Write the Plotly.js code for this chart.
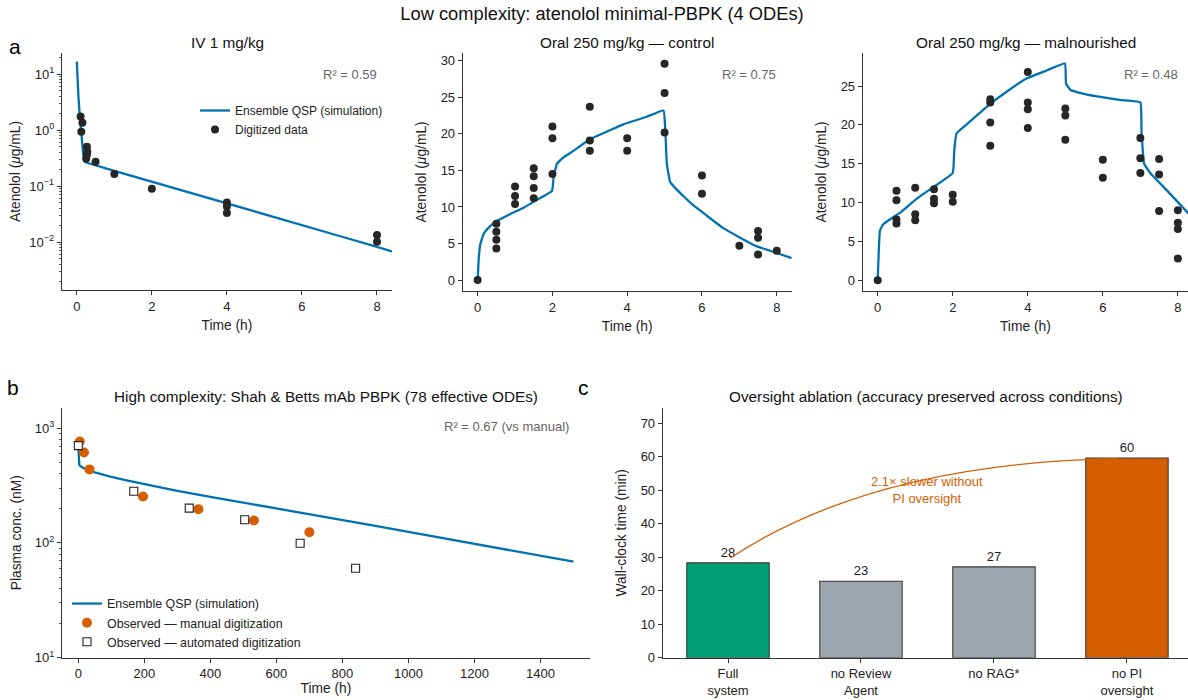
<!DOCTYPE html>
<html>
<head>
<meta charset="utf-8">
<script src="https://cdn.plot.ly/plotly-3.0.1.min.js"></script>
<style>html,body{margin:0;padding:0;background:#fff;}#chart{width:1188px;height:700px;}</style>
</head>
<body>
<div id="chart"></div>
<script>
// ---------------- data ----------------
// Panel a1: IV 1 mg/kg
const ivTime = [0.1, 0.15, 0.12, 0.27, 0.28, 0.27, 0.25, 0.5, 1, 2, 4, 4, 4, 8, 8];
const ivConc = [1.74, 1.35, 0.93, 0.50, 0.41, 0.36, 0.31, 0.27, 0.164, 0.089, 0.051, 0.043, 0.033, 0.0133, 0.0101];
const simIvTime = [0, 0.018, 0.044, 0.08, 0.124, 0.169, 0.213, 0.27, 1, 2, 3, 4, 5, 6, 7, 8, 8.4];
const simIvConc = [16.6, 7.8, 3.9, 1.74, 0.76, 0.385, 0.27, 0.26, 0.187, 0.119, 0.0764, 0.0489, 0.0313, 0.020, 0.0128, 0.0082, 0.0068];

// Panel a2: oral control
const ctlTime = [0, 0.5, 0.5, 0.5, 0.5, 1, 1, 1, 1.5, 1.5, 1.5, 1.5, 2, 2, 2, 3, 3, 3, 4, 4, 5, 5, 5, 6, 6, 7, 7.5, 7.5, 7.5, 8];
const ctlConc = [0, 7.7, 6.6, 5.5, 4.3, 12.8, 11.5, 10.4, 15.3, 14.2, 12.6, 11.2, 21.0, 19.4, 14.5, 23.7, 19.1, 17.7, 19.4, 17.7, 29.6, 25.6, 20.2, 14.3, 11.8, 4.7, 6.7, 5.8, 3.5, 4.0];
const simCtlTime = [0, 0.03, 0.07, 0.16, 0.3, 0.52, 0.9, 1.23, 1.6, 1.99, 2.03, 2.12, 2.3, 2.57, 3.01, 3.5, 3.9, 4.5, 4.97, 5.02, 5.06, 5.15, 5.3, 5.5, 5.75, 6.13, 6.57, 7.02, 7.47, 8.0, 8.4];
const simCtlConc = [0, 3.0, 4.9, 6.3, 7.2, 8.1, 9.1, 9.9, 11.0, 12.2, 14.0, 15.9, 16.8, 17.7, 19.3, 20.4, 21.3, 22.3, 23.2, 20.4, 15.9, 13.4, 12.5, 11.5, 10.3, 8.8, 7.1, 5.8, 4.6, 3.7, 3.0];

// Panel a3: oral malnourished
const malTime = [0, 0.5, 0.5, 0.5, 0.5, 1, 1, 1, 1.5, 1.5, 1.5, 2, 2, 3, 3, 3, 3, 4, 4, 4, 4, 5, 5, 5, 6, 6, 7, 7, 7, 7.5, 7.5, 7.5, 8, 8, 8, 8];
const malConc = [0, 11.5, 10.3, 7.8, 7.3, 11.9, 8.5, 7.7, 11.7, 10.5, 9.9, 11.0, 10.1, 23.3, 22.9, 20.3, 17.3, 26.8, 22.9, 22.0, 19.6, 22.1, 21.2, 18.1, 15.5, 13.2, 18.3, 15.7, 13.8, 15.6, 13.6, 8.9, 9.0, 7.4, 6.6, 2.8];
const simMalTime = [0, 0.03, 0.06, 0.15, 0.35, 0.6, 1.04, 1.49, 2.0, 2.04, 2.1, 2.38, 3.0, 3.5, 3.98, 4.5, 4.99, 5.02, 5.14, 5.5, 5.94, 6.5, 7.0, 7.03, 7.1, 7.28, 7.72, 8.28];
const simMalConc = [0, 4.0, 6.4, 7.2, 7.9, 8.7, 10.5, 12.0, 13.8, 16.7, 18.9, 20.1, 22.7, 24.5, 26.0, 27.0, 27.9, 25.3, 24.5, 24.0, 23.6, 23.2, 22.9, 19.3, 15.0, 13.7, 11.5, 8.6];

// Panel b: mAb PBPK
const manualTime = [4.5, 17, 34, 196, 364, 532, 700];
const manualConc = [766, 614, 438, 254, 197, 157, 124];
const autoTime = [0, 168, 336, 504, 672, 840];
const autoConc = [706, 282, 201, 159, 99.3, 60];
const simPbTime = [0, 1, 3, 10, 25, 50, 75, 100, 150, 200, 300, 400, 500, 600, 700, 800, 900, 1000, 1100, 1200, 1300, 1400, 1500];
const simPbConc = [700, 520, 478, 458, 436, 412, 392, 376, 349, 325, 285, 252, 225, 200, 178, 158, 141, 125, 111, 98.5, 87.5, 77.5, 68.5];

// Panel c: oversight ablation
const conditions = ['Full<br>system', 'no Review<br>Agent', 'no RAG*', 'no PI<br>oversight'];
const wallTime = [28.3, 22.8, 27.1, 59.6];

const r2Text = ['R² = 0.59', 'R² = 0.75', 'R² = 0.48', 'R² = 0.67 (vs manual)'];

// ---------------- style ----------------
const W = 1188, H = 700;
const px = v => v / W;
const py = v => 1 - v / H;
const FONT = 'Liberation Sans, Arial, Helvetica, sans-serif';
const BLUE = '#0072B2', DOT = '#262626', ORANGE = '#D55E00', GREEN = '#009E73', GREY = '#9AA5AE';
const TICK = 13, LAB = 13.8, SUB = 15.3;

function axTitle(text, standoff) {
  return {text: text, standoff: standoff, font: {size: LAB, color: '#222', family: FONT}};
}
function baseAxis(extra) {
  return Object.assign({
    showline: true, linecolor: '#333', linewidth: 1,
    ticks: 'outside', ticklen: 4, tickwidth: 1, tickcolor: '#333',
    showgrid: false, zeroline: false, fixedrange: true,
    tickfont: {size: TICK, color: '#222', family: FONT}
  }, extra);
}
function decadeTicks(lo, hi) {
  const vals = [], text = [], minor = [];
  for (let e = lo; e <= hi; e++) {
    vals.push(Math.pow(10, e));
    text.push('10<sup>' + (e < 0 ? '−' + (-e) : e) + '</sup>');
    for (let m = 2; m <= 9; m++) minor.push(m * Math.pow(10, e));
  }
  minor.push(Math.pow(10, hi + 1));
  return {vals, text, minor};
}
const dA = decadeTicks(-3, 1);
const dB = decadeTicks(1, 3);

const traces = [
  // a1
  {x: simIvTime, y: simIvConc, xaxis: 'x', yaxis: 'y', mode: 'lines', name: 'Ensemble QSP (simulation)',
   line: {color: BLUE, width: 2.3}, legend: 'legend'},
  {x: ivTime, y: ivConc, xaxis: 'x', yaxis: 'y', mode: 'markers', name: 'Digitized data',
   marker: {color: DOT, size: 8}, legend: 'legend'},
  // a2
  {x: simCtlTime, y: simCtlConc, xaxis: 'x2', yaxis: 'y2', mode: 'lines', line: {color: BLUE, width: 2.3, shape: 'spline', smoothing: 0.3}, showlegend: false},
  {x: ctlTime, y: ctlConc, xaxis: 'x2', yaxis: 'y2', mode: 'markers', marker: {color: DOT, size: 8}, showlegend: false},
  // a3
  {x: simMalTime, y: simMalConc, xaxis: 'x3', yaxis: 'y3', mode: 'lines', line: {color: BLUE, width: 2.3, shape: 'spline', smoothing: 0.3}, showlegend: false},
  {x: malTime, y: malConc, xaxis: 'x3', yaxis: 'y3', mode: 'markers', marker: {color: DOT, size: 8}, showlegend: false},
  // b
  {x: simPbTime, y: simPbConc, xaxis: 'x4', yaxis: 'y4', mode: 'lines', name: 'Ensemble QSP (simulation)',
   line: {color: BLUE, width: 2.3}, legend: 'legend2'},
  {x: manualTime, y: manualConc, xaxis: 'x4', yaxis: 'y4', mode: 'markers', name: 'Observed — manual digitization',
   marker: {color: ORANGE, size: 10}, legend: 'legend2'},
  {x: autoTime, y: autoConc, xaxis: 'x4', yaxis: 'y4', mode: 'markers', name: 'Observed — automated digitization',
   marker: {color: '#fff', size: 8, symbol: 'square', line: {color: '#222', width: 1.1}}, legend: 'legend2'},
  // c
  {x: conditions.map((c, i) => i), y: wallTime, xaxis: 'x5', yaxis: 'y5', type: 'bar', width: 0.62,
   marker: {color: [GREEN, GREY, GREY, ORANGE], line: {color: '#3a3a3a', width: 1.1}},
   text: wallTime.map(v => Math.round(v).toString()), textposition: 'outside', cliponaxis: false,
   textfont: {size: 13, color: '#222', family: FONT}, showlegend: false}
];

const ratio = (wallTime[3] / wallTime[0]).toFixed(1);

function note(text, x, y, size, color, anchor) {
  return {text: text, x: px(x), y: py(y), xref: 'paper', yref: 'paper', showarrow: false,
          xanchor: anchor || 'center', yanchor: 'middle', font: {size: size, color: color, family: FONT}};
}

const layout = {
  width: W, height: H,
  margin: {l: 0, r: 0, t: 0, b: 0},
  paper_bgcolor: '#fff', plot_bgcolor: 'rgba(0,0,0,0)',
  font: {family: FONT, size: 12, color: '#222'},
  title: {text: 'Low complexity: atenolol minimal-PBPK (4 ODEs)', x: px(602), xanchor: 'center',
          y: py(14), yanchor: 'middle', font: {size: 18.3, color: '#111', family: FONT}},
  bargap: 0,
  xaxis: baseAxis({domain: [px(61.8), px(392)], range: [-0.4, 8.4], anchor: 'y', tickvals: [0, 2, 4, 6, 8],
                   title: axTitle('Time (h)', 7)}),
  yaxis: baseAxis({domain: [py(290), py(53)], type: 'log', range: [-2.857, 1.375], anchor: 'x',
                   tickmode: 'array', tickvals: dA.vals, ticktext: dA.text,
                   minor: {tickmode: 'array', tickvals: dA.minor, ticks: 'outside', ticklen: 2, tickwidth: 0.8, tickcolor: '#333'},
                   title: axTitle('Atenolol (<i>μ</i>g/mL)', 5)}),
  xaxis2: baseAxis({domain: [px(462.7), px(791.7)], range: [-0.4, 8.4], anchor: 'y2', tickvals: [0, 2, 4, 6, 8],
                    title: axTitle('Time (h)', 7)}),
  yaxis2: baseAxis({domain: [py(291), py(52.7)], range: [-1.5, 31.1], anchor: 'x2', tickvals: [0, 5, 10, 15, 20, 25, 30],
                    title: axTitle('Atenolol (<i>μ</i>g/mL)', 10)}),
  xaxis3: baseAxis({domain: [px(862.7), 1], range: [-0.4, 8.27], anchor: 'y3', tickvals: [0, 2, 4, 6, 8],
                    title: axTitle('Time (h)', 7)}),
  yaxis3: baseAxis({domain: [py(291), py(52.7)], range: [-1.4, 29.3], anchor: 'x3', tickvals: [0, 5, 10, 15, 20, 25],
                    title: axTitle('Atenolol (<i>μ</i>g/mL)', 10)}),
  xaxis4: baseAxis({domain: [px(61.8), px(590)], range: [-50, 1550], anchor: 'y4', tickvals: [0, 200, 400, 600, 800, 1000, 1200, 1400],
                    title: axTitle('Time (h)', 3)}),
  yaxis4: baseAxis({domain: [py(657.5), py(408)], type: 'log', range: [1, 3.177], anchor: 'x4',
                    tickmode: 'array', tickvals: dB.vals, ticktext: dB.text,
                    minor: {tickmode: 'array', tickvals: dB.minor, ticks: 'outside', ticklen: 2, tickwidth: 0.8, tickcolor: '#333'},
                    title: axTitle('Plasma conc. (nM)', 9)}),
  xaxis5: baseAxis({domain: [px(662.7), 1], range: [-0.491, 3.459], anchor: 'y5',
                    tickmode: 'array', tickvals: conditions.map((c, i) => i), ticktext: conditions}),
  yaxis5: baseAxis({domain: [py(657.7), py(408)], range: [0, 74.5], anchor: 'x5', tickvals: [0, 10, 20, 30, 40, 50, 60, 70],
                    title: axTitle('Wall-clock time (min)', 10)}),
  legend: {x: px(195), y: py(96), xanchor: 'left', yanchor: 'top', bgcolor: 'rgba(0,0,0,0)',
           font: {size: 12, color: '#222', family: FONT}, itemwidth: 30, tracegroupgap: 0},
  legend2: {x: px(67), y: py(589), xanchor: 'left', yanchor: 'top', bgcolor: 'rgba(0,0,0,0)',
            font: {size: 12.4, color: '#222', family: FONT}, itemwidth: 30, tracegroupgap: 0},
  shapes: [
    {type: 'path', xref: 'x5', yref: 'y5',
     path: 'M ' + (0 + 0.02) + ',' + (wallTime[0] + 1.5) + ' Q 1.1,' + (wallTime[3] - 1.5) + ' ' + (3 - 0.07) + ',' + (wallTime[3] - 0.2),
     line: {color: ORANGE, width: 1.3}}
  ],
  annotations: [
    note('IV 1 mg/kg', 227, 42, SUB, '#111'),
    note('Oral 250 mg/kg — control', 627, 42, SUB, '#111'),
    note('Oral 250 mg/kg — malnourished', 1026, 42, SUB, '#111'),
    note('High complexity: Shah &amp; Betts mAb PBPK (78 effective ODEs)', 326, 396, SUB, '#111'),
    note('Oversight ablation (accuracy preserved across conditions)', 926, 396, SUB, '#111'),
    note('a', 7, 46, 21, '#000', 'left'),
    note('b', 5, 387, 21, '#000', 'left'),
    note('c', 576, 387, 21, '#000', 'left'),
    note(r2Text[0], 379, 74, 13, '#666', 'right'),
    note(r2Text[1], 778, 74, 13, '#666', 'right'),
    note(r2Text[2], 1180, 74, 13, '#666', 'right'),
    note(r2Text[3], 571, 426, 13, '#666', 'right'),
    {text: ratio + '× slower without<br>PI oversight', x: 1.5, y: 50, xref: 'x5', yref: 'y5', showarrow: false,
     xanchor: 'center', yanchor: 'middle', font: {size: 13, color: ORANGE, family: FONT}}
  ]
};

Plotly.newPlot('chart', traces, layout, {displayModeBar: false, staticPlot: true});
</script>
</body>
</html>
